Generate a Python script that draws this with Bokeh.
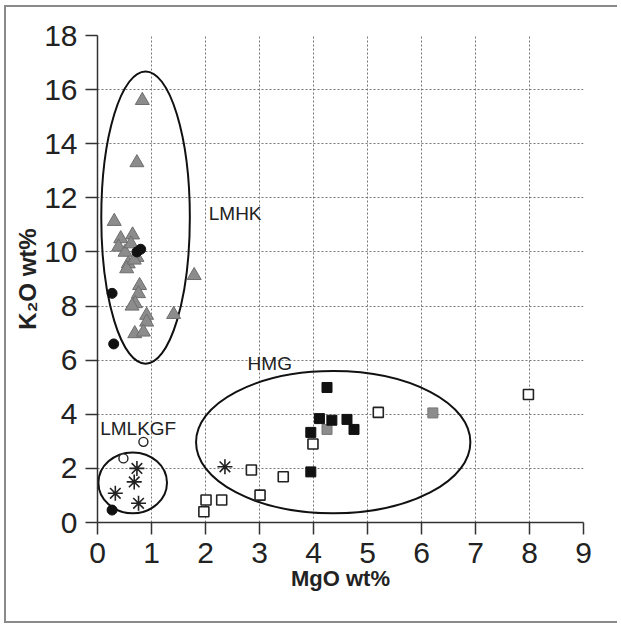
from bokeh.plotting import figure
from bokeh.models import FixedTicker, Label
from bokeh.embed import file_html
from bokeh.resources import INLINE

# --- data: MgO (x) vs K2O (y), wt% ---
tri_mgo = [0.83, 0.73, 0.31, 0.65, 0.43, 0.39, 0.51, 0.62, 0.57, 0.54, 0.73,
           0.68, 0.78, 0.76, 0.70, 0.64, 0.91, 0.91, 0.69, 0.85, 1.79, 1.41]
tri_k2o = [15.6, 13.3, 11.13, 10.63, 10.49, 10.18, 9.99, 10.3, 9.56, 9.38, 9.8,
           9.7, 8.76, 8.46, 8.09, 8.0, 7.66, 7.41, 6.98, 7.04, 9.13, 7.69]

dot_mgo = [0.73, 0.80, 0.27, 0.30, 0.27]
dot_k2o = [10.0, 10.1, 8.47, 6.6, 0.46]

ring_mgo = [0.85, 0.48]
ring_k2o = [2.98, 2.37]

star_mgo = [0.73, 0.68, 0.33, 0.76, 2.36]
star_k2o = [2.0, 1.5, 1.08, 0.71, 2.06]

bsq_mgo = [4.25, 4.11, 4.34, 4.62, 4.75, 3.95, 3.95]
bsq_k2o = [4.99, 3.84, 3.78, 3.81, 3.44, 3.33, 1.87]

gsq_mgo = [4.25, 6.21]
gsq_k2o = [3.44, 4.05]

osq_mgo = [3.99, 5.20, 7.98, 3.44, 2.01, 1.97, 2.30, 2.85, 3.01]
osq_k2o = [2.90, 4.07, 4.73, 1.69, 0.83, 0.40, 0.83, 1.94, 1.01]

# group envelopes: centre x, centre y, width, height (data units)
groups = ["LMHK", "HMG", "LMLKGF"]
env_x = [0.89, 4.365, 0.652]
env_y = [11.27, 2.97, 1.465]
env_w = [1.64, 5.08, 1.27]
env_h = [10.8, 5.26, 2.25]
label_x = [2.06, 2.78, 0.05]
label_y = [11.41, 5.87, 3.49]

x_ticks = list(range(0, 10))
y_ticks = list(range(0, 19, 2))

FONT = "Liberation Sans"
GREY = "#8c8c8c"
EDGE = "#8a8a8a"

p = figure(width=621, height=625, x_range=(0, 9), y_range=(0, 18),
           output_backend="svg", toolbar_location=None,
           min_border_left=97, min_border_right=38,
           min_border_top=35, min_border_bottom=103)
p.outline_line_color = None
p.background_fill_color = "white"
p.border_fill_color = None
# thin grey frame round the picture (left, top and bottom edges),
# painted behind the transparent canvas margins
p.styles = {
    "background-color": "white",
    "box-shadow": (
        "inset -4px 0 0 0 white, "
        "inset 4px 0 0 0 white, inset 0 5px 0 0 white, "
        "inset 0 -2px 0 0 white, "
        f"inset 6px 0 0 0 {EDGE}, inset 0 7px 0 0 {EDGE}, "
        f"inset 0 -4px 0 0 {EDGE}"
    ),
}

# grid: dotted lines at inner ticks only
p.xgrid.ticker = FixedTicker(ticks=x_ticks[1:-1])
p.ygrid.ticker = FixedTicker(ticks=y_ticks[1:-1])
for g in (p.xgrid, p.ygrid):
    g.grid_line_color = "#777777"
    g.grid_line_dash = "2 2"
    g.grid_line_width = 1

for ax, ticks in ((p.xaxis, x_ticks), (p.yaxis, y_ticks)):
    ax.ticker = FixedTicker(ticks=ticks)
    ax.minor_tick_line_color = None
    ax.major_tick_in = 0
    ax.major_tick_out = 12
    ax.major_tick_line_color = "#333333"
    ax.major_tick_line_width = 1.5
    ax.axis_line_color = "#333333"
    ax.axis_line_width = 1.5
    ax.major_label_text_font = FONT
    ax.major_label_text_font_size = "30px"
    ax.major_label_text_color = "#222222"
    ax.axis_label_text_font = FONT
    ax.axis_label_text_font_style = "bold"
    ax.axis_label_text_color = "#222222"

p.xaxis.axis_label = "MgO wt%"
p.yaxis.axis_label = "K\u2082O wt%"
p.xaxis.axis_label_text_font_size = "22px"
p.yaxis.axis_label_text_font_size = "24px"
p.xaxis.major_label_standoff = 8
p.xaxis.axis_label_standoff = 0
p.yaxis.major_label_standoff = 8
p.yaxis.axis_label_standoff = 0

# envelopes
p.ellipse(x=env_x, y=env_y, width=env_w, height=env_h,
          fill_color=None, line_color="#111111", line_width=2)

# samples
p.scatter(tri_mgo, tri_k2o, marker="triangle", size=14,
          fill_color=GREY, line_color="#6e6e6e", line_width=1)
p.scatter(gsq_mgo, gsq_k2o, marker="square", size=10,
          fill_color=GREY, line_color="#777777", line_width=1)
p.scatter(bsq_mgo, bsq_k2o, marker="square", size=10,
          fill_color="#111111", line_color="#111111")
p.scatter(osq_mgo, osq_k2o, marker="square", size=10,
          fill_color="white", line_color="#222222", line_width=1.6)
p.scatter(ring_mgo, ring_k2o, marker="circle", size=9,
          fill_color="white", line_color="#222222", line_width=1.4)
p.scatter(star_mgo, star_k2o, marker="asterisk", size=15,
          line_color="#222222", line_width=1.6)
p.scatter(dot_mgo, dot_k2o, marker="circle", size=10,
          fill_color="#111111", line_color="#111111")

for name, lx, ly in zip(groups, label_x, label_y):
    p.add_layout(Label(x=lx, y=ly, text=name, text_font=FONT,
                       text_font_size="19px", text_color="#222222",
                       text_baseline="middle", text_align="left"))

open("out.html", "w").write(file_html(p, INLINE))
